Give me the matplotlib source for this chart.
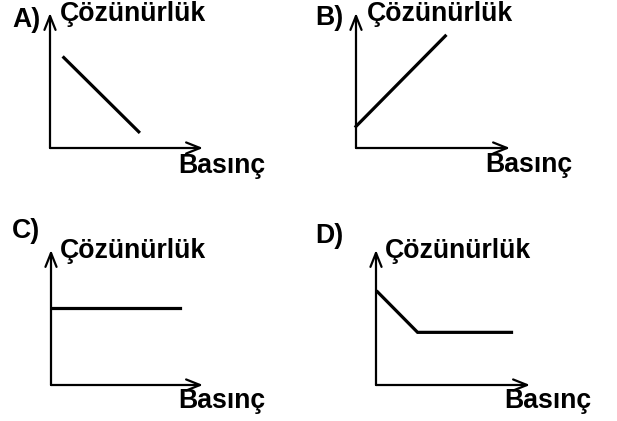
import matplotlib
matplotlib.use("Agg")
import matplotlib.pyplot as plt

W, H = 617, 421

panel_letters = ["A)", "B)", "C)", "D)"]
y_label = "Çözünürlük"
x_label = "Basınç"

# curves in data units (0..10 on both axes)
curve_x = {
    "A)": [0.9, 5.8],
    "B)": [0.0, 5.8],
    "C)": [0.1, 8.5],
    "D)": [0.1, 2.7, 8.8],
}
curve_y = {
    "A)": [6.7, 1.2],
    "B)": [1.6, 8.3],
    "C)": [5.7, 5.7],
    "D)": [6.9, 3.9, 3.9],
}

# layout (pixels, y measured from top): origin x, origin y, x-axis end, y-axis top
axes_box = {
    "A)": (50, 148, 203, 13),
    "B)": (356, 148, 510, 13),
    "C)": (51, 385, 203, 250),
    "D)": (376, 385, 530, 250),
}
# text positions (left, baseline) in pixels
letter_pos = {"A)": (12, 27), "B)": (315, 25), "C)": (12, 238), "D)": (315, 243)}
ylab_pos = {"A)": (60, 21), "B)": (367, 21), "C)": (60, 258), "D)": (385, 258)}
xlab_pos = {"A)": (178, 173), "B)": (485, 172), "C)": (178, 408), "D)": (504, 408)}

fig = plt.figure(figsize=(W / 100, H / 100), dpi=100)
font = dict(family=["Liberation Sans", "DejaVu Sans"], weight="bold", size=19.2)


def fx(px):
    return px / W


def fy(py):
    return 1 - py / H


for key in panel_letters:
    x0, y0, x1, y1 = axes_box[key]
    ax = fig.add_axes([fx(x0), fy(y0), (x1 - x0) / W, (y0 - y1) / H])
    ax.set_xlim(0, 10)
    ax.set_ylim(0, 10)
    ax.axis("off")
    arrow = dict(arrowstyle="->,head_length=1.0,head_width=0.4", lw=1.6,
                 color="black", shrinkA=0, shrinkB=0)
    ax.annotate("", xy=(1, 0), xytext=(0, 0), xycoords="axes fraction",
                textcoords="axes fraction", arrowprops=arrow)
    ax.annotate("", xy=(0, 1), xytext=(0, 0), xycoords="axes fraction",
                textcoords="axes fraction", arrowprops=arrow)
    ax.plot(curve_x[key], curve_y[key], color="black", lw=2.3,
            solid_joinstyle="miter", clip_on=False)

    lx, ly = letter_pos[key]
    fig.text(fx(lx), fy(ly), key, va="baseline", ha="left", **font)
    tx, ty = ylab_pos[key]
    fig.text(fx(tx), fy(ty), y_label, va="baseline", ha="left", **font)
    bx, by = xlab_pos[key]
    fig.text(fx(bx), fy(by), x_label, va="baseline", ha="left", **font)

fig.savefig("out.png", dpi=100)
